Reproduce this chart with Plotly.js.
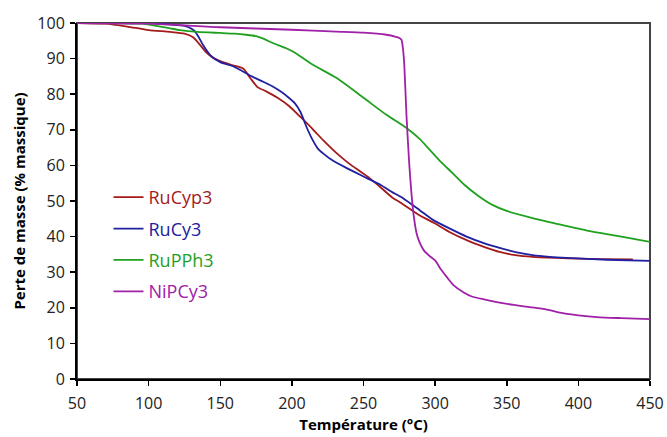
<!DOCTYPE html>
<html>
<head>
<meta charset="utf-8">
<script src="https://cdn.plot.ly/plotly-3.0.1.min.js"></script>
<style>html,body{margin:0;padding:0;background:#fff;}#chart{width:667px;height:437px;}</style>
</head>
<body>
<div id="chart"></div>
<script>
const seriesNames = ["RuCyp3", "RuCy3", "RuPPh3", "NiPCy3"];
const seriesColors = ["#A51A1A", "#2020A0", "#1FA01F", "#A020A8"];

const tRuCyp3 = [50, 70, 85, 100, 115, 125, 131, 136, 140.6, 145, 150, 158, 166, 171, 176, 182, 190, 198, 206, 215, 222, 231, 240, 247, 254, 262, 270, 276, 289, 300, 310, 322, 335, 345, 356, 368, 385, 400, 415, 438];
const yRuCyp3 = [100, 99.8, 99, 98, 97.5, 97, 96, 93.8, 91.6, 90.2, 89.3, 88.2, 87.2, 84.5, 82, 80.8, 79, 76.7, 73.6, 70, 67, 63.5, 60.5, 58.5, 56.5, 53.8, 51, 49.5, 46, 43.7, 41.3, 39, 37, 35.7, 34.8, 34.3, 34, 33.8, 33.7, 33.6];

const tRuCy3 = [50, 100, 115, 125, 129, 132, 135, 138, 143, 150, 158, 164, 172, 180, 186, 192, 197, 202, 206, 210, 214, 218, 222, 228, 238, 252, 262, 270, 276, 289, 298.5, 310, 322, 335, 345, 357, 368, 380, 392, 420, 450];
const yRuCy3 = [100, 100, 99.6, 99.2, 98.6, 97.8, 96, 93.8, 91, 89, 88, 86.8, 85, 83.5, 82.3, 80.8, 79.3, 77.5, 75, 71, 67.5, 64.8, 63.3, 61.5, 59.3, 56.5, 54.5, 52.5, 51.2, 47.5, 44.7, 42.3, 40, 38, 36.8, 35.6, 34.8, 34.3, 34, 33.5, 33.2];

const tRuPPh3 = [50, 95, 108, 115, 122, 134, 150, 160, 168, 175, 180, 187, 196, 201, 206, 215, 231, 250, 266, 280, 289, 296, 304, 312, 320, 330, 340, 350, 368, 385, 406, 430, 450];
const yRuPPh3 = [100, 99.8, 99, 98.5, 98, 97.5, 97.2, 97, 96.7, 96.3, 95.6, 94.3, 92.9, 91.9, 90.6, 88.2, 84.6, 79, 74.2, 70.5, 67.5, 64.5, 61, 57.9, 54.7, 51.5, 48.9, 47.2, 45.2, 43.6, 41.7, 40, 38.5];

const tNiPCy3 = [50, 100, 150, 200, 231, 250, 266, 272, 275, 276.5, 277.5, 278.5, 280, 282, 283.5, 285, 287, 289, 292, 296, 300, 304, 309, 313, 320, 326, 335, 343, 355, 366, 378, 389, 400, 413, 430, 450];
const yNiPCy3 = [100, 99.8, 98.8, 98.1, 97.6, 97.3, 96.7, 96.2, 95.8, 95.3, 93, 88, 74, 60, 52, 46, 41, 38.5, 36.2, 34.6, 33.3, 30.8, 28.2, 26.3, 24.3, 23.1, 22.3, 21.6, 20.8, 20.2, 19.5, 18.5, 17.9, 17.4, 17.1, 16.8];

const xTicks = [50, 100, 150, 200, 250, 300, 350, 400, 450];
const yTicks = [0, 10, 20, 30, 40, 50, 60, 70, 80, 90, 100];

const xs = [tRuCyp3, tRuCy3, tRuPPh3, tNiPCy3];
const ys = [yRuCyp3, yRuCy3, yRuPPh3, yNiPCy3];

const traces = seriesNames.map((n, i) => ({
  x: xs[i], y: ys[i], type: 'scatter', mode: 'lines',
  name: '<span style="color:' + seriesColors[i] + '">' + n + '</span>',
  legendgroup: 'g' + i,
  line: {color: seriesColors[i], width: 1.8, shape: 'spline', smoothing: 0.6}
}));

const font = "'Open Sans', 'Noto Sans', sans-serif";
const layout = {
  width: 667, height: 437,
  margin: {l: 77, r: 17, t: 23, b: 58},
  paper_bgcolor: '#fff', plot_bgcolor: '#fff',
  font: {family: font, size: 15, color: '#222'},
  showlegend: true,
  legend: {x: 0.055, y: 0.562, xanchor: 'left', yanchor: 'top', bgcolor: 'rgba(0,0,0,0)',
           font: {family: font, size: 18}, itemwidth: 30, tracegroupgap: 5, traceorder: 'grouped'},
  xaxis: {range: [50, 450], tickvals: xTicks, ticktext: xTicks.map(String),
          showgrid: false, zeroline: false, showline: true, linecolor: '#000', linewidth: 2,
          ticks: 'outside', ticklen: 5, tickwidth: 1.5, tickcolor: '#000', ticklabelstandoff: 4,
          tickfont: {family: font, size: 16, color: '#222'},
          title: {text: '<b>Température (°C)</b>', font: {family: font, size: 15, color: '#000'}, standoff: 6}},
  yaxis: {range: [0, 100], tickvals: yTicks, ticktext: yTicks.map(String),
          showgrid: false, zeroline: false, showline: true, linecolor: '#000', linewidth: 2,
          ticks: 'outside', ticklen: 5, tickwidth: 1.5, tickcolor: '#000', ticklabelstandoff: 2,
          tickfont: {family: font, size: 16, color: '#222'},
          title: {text: '<b>Perte de masse (% massique)</b>', font: {family: font, size: 15, color: '#000'}, standoff: 8}},
  shapes: [{type: 'rect', xref: 'paper', yref: 'paper', x0: 0, x1: 1, y0: 0, y1: 1,
            line: {color: '#444', width: 2}, layer: 'below'}]
};

Plotly.newPlot('chart', traces, layout, {displayModeBar: false, staticPlot: true});
</script>
</body>
</html>
